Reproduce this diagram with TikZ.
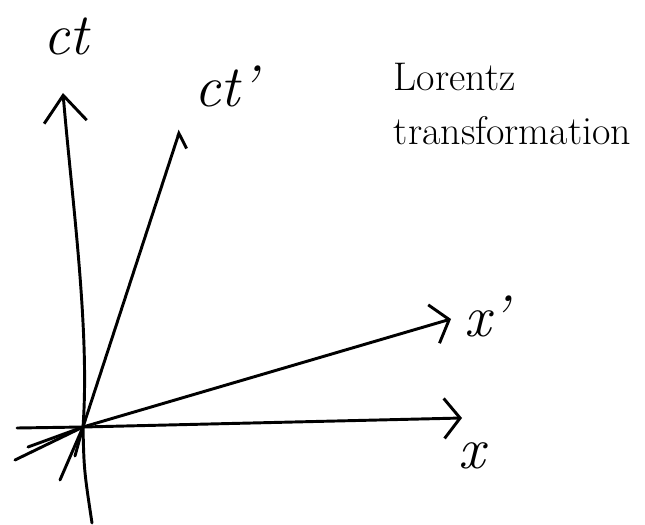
\documentclass[tikz,border=0pt]{standalone}
\usepackage{fontspec}
\usetikzlibrary{arrows.meta}

\begin{document}
\begin{tikzpicture}[x=0.75pt,y=-0.75pt,line width=2.2pt,line cap=round,
  axis/.style={-{Straight Barb[length=12pt,width=30pt]}},
  lbl/.style={font=\fontsize{44}{48}\selectfont\itshape}]
  \useasboundingbox (0,0) rectangle (645,524);
  % axes
  \coordinate (O) at (83,427);
  \coordinate (ctbot) at (92,523);
  \coordinate (cttip) at (63,93);
  \coordinate (cptip) at (180,130);
  \coordinate (cpback) at (60,480);
  \coordinate (cpshort) at (75,456);
  \coordinate (xleft) at (17,428);
  \coordinate (xtip) at (462,418);
  \coordinate (xptip) at (451,319);
  \coordinate (xpback) at (15,460);
  \coordinate (xpshort) at (28,447);
  \draw[-{Straight Barb[length=20pt,width=32pt]}] (ctbot) .. controls (84,470) .. (O)
    .. controls (90,330) and (72,200) .. (cttip);
  \draw[-{Straight Barb[length=9pt,width=18pt,right]}] (O) -- (cptip);
  \draw[axis] (xleft) -- (O) -- (xtip);
  \draw[axis] (O) -- (xptip);
  \draw (O) -- (cpback);
  \draw (O) -- (cpshort);
  \draw (O) -- (xpback);
  \draw (O) -- (xpshort);
  % labels
  \node[lbl] (ctlbl) at (66,36) {ct};
  \node[lbl] (cplbl) at (226,86) {ct'};
  \node[lbl] (xplbl) at (486,316) {x'};
  \node[lbl] (xlbl) at (472,456) {x};
  \node[anchor=base west,align=left,font=\fontsize{30}{41}\selectfont]
    (title) at (388,145) {Lorentz\\transformation};
\end{tikzpicture}
\end{document}
